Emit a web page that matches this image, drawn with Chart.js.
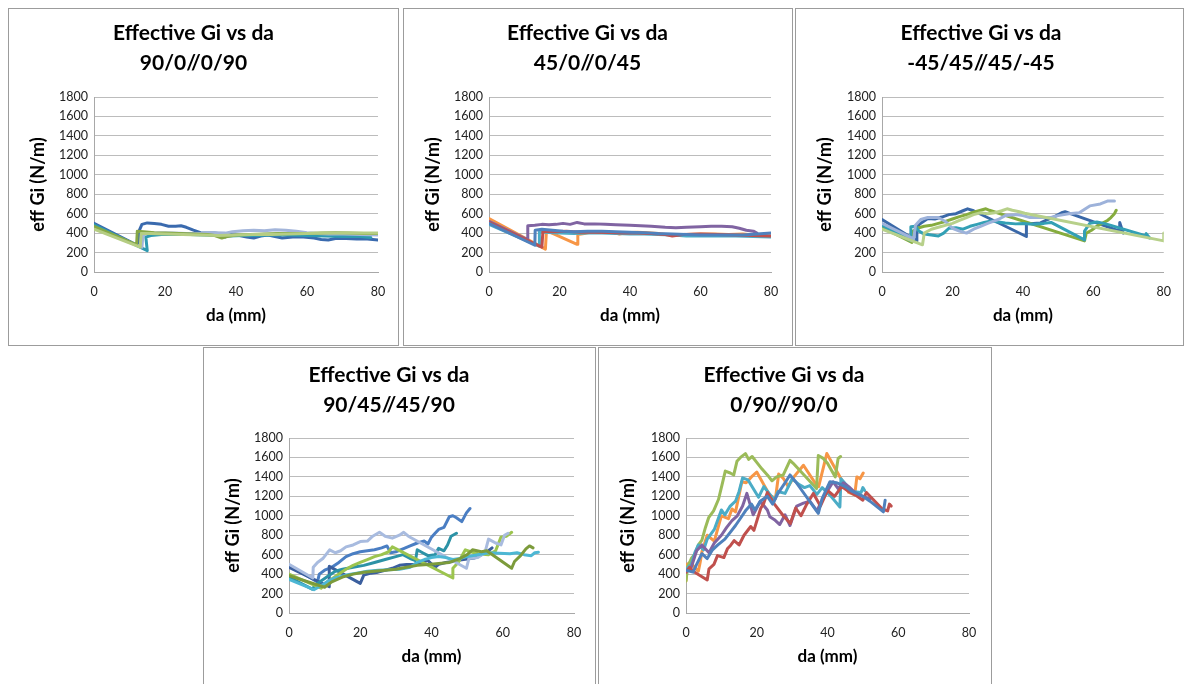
<!DOCTYPE html>
<html>
<head>
<meta charset="utf-8">
<script src="https://cdn.jsdelivr.net/npm/chart.js@4.4.0/dist/chart.umd.min.js"></script>
<style>
  body { margin: 0; background: #fff; width: 1184px; height: 684px; overflow: hidden; position: relative; }
  .panel { position: absolute; border: 1px solid #9c9c9c; box-sizing: border-box; background: #fff; overflow: hidden; }
  .panel canvas { display: block; }
</style>
</head>
<body>
<div class="panel" style="left:8px;top:8px;width:391px;height:338px"><canvas id="c1" width="389" height="336"></canvas></div>
<div class="panel" style="left:403px;top:8px;width:390px;height:338px"><canvas id="c2" width="388" height="336"></canvas></div>
<div class="panel" style="left:795px;top:8px;width:389px;height:338px"><canvas id="c3" width="387" height="336"></canvas></div>
<div class="panel" style="left:203px;top:347px;width:393px;height:340px"><canvas id="c4" width="391" height="338"></canvas></div>
<div class="panel" style="left:598px;top:347px;width:394px;height:340px"><canvas id="c5" width="392" height="338"></canvas></div>

<script>
// --- axes ---
const xTicks = [0, 20, 40, 60, 80];
const yTicks = [0, 200, 400, 600, 800, 1000, 1200, 1400, 1600, 1800];

// --- 90/0//0/90 : [da (mm), eff Gi (N/m)] ---
const p1Navy = [[0,500],[12.5,270],[12.8,430],[13.5,490],[15,505],[17,500],[19,490],[21,470],[23,470],[24.5,475],[26,460],[28,430],[30,405],[32,400],[34,400],[36,390],[37,360],[38.5,385],[41,375],[43,360],[45,350],[47,370],[49,380],[51,365],[53,350],[56,360],[59,360],[62,350],[64,335],[66,330],[68,345],[71,345],[74,340],[77,340],[80,330]];
const p1Lav = [[0,455],[13.5,255],[13.8,380],[15,395],[18,400],[22,400],[26,395],[30,395],[34,405],[37,400],[39,415],[42,425],[45,430],[48,425],[51,435],[54,430],[57,420],[60,405],[63,395],[66,390],[70,390],[75,385],[80,380]];
const p1Green = [[0,470],[12,280],[12.2,420],[14,415],[17,405],[20,400],[24,395],[28,390],[32,385],[34,375],[36,350],[37.5,365],[40,380],[44,385],[48,390],[52,395],[56,395],[60,395],[64,400],[68,405],[72,400],[76,395],[80,395]];
const p1Lime = [[0,440],[13,255],[13.3,395],[16,395],[20,390],[25,385],[30,380],[35,375],[40,380],[45,385],[50,385],[55,390],[60,395],[65,400],[70,400],[75,400],[80,400]];
const p1Teal = [[0,485],[15,220],[14.6,360],[16,375],[19,385],[23,385],[27,385],[31,380],[35,375],[38,370],[42,375],[46,375],[50,380],[55,380],[60,375],[65,370],[70,365],[75,365],[78,355]];

// --- 45/0//0/45 ---
const p2Purple = [[0,520],[11,330],[11,475],[13,480],[15,490],[17,485],[19,490],[21,500],[23,490],[25,510],[27,495],[30,495],[33,490],[36,485],[40,480],[43,475],[46,470],[50,460],[53,455],[56,460],[60,465],[63,470],[66,470],[69,465],[71,450],[73,430],[75,420],[76,400]];
const p2Blue = [[0,500],[13,275],[13.1,430],[15,440],[18,430],[21,420],[24,415],[28,420],[32,420],[36,415],[40,410],[44,405],[48,395],[52,390],[56,385],[60,380],[64,380],[68,380],[72,380],[76,390],[80,400]];
const p2Aqua = [[0,490],[14.2,265],[14.3,415],[17,405],[20,400],[24,395],[28,400],[32,400],[36,395],[40,390],[44,390],[48,385],[52,380],[56,370],[60,370],[65,370],[70,370],[75,365],[80,360]];
const p2Red = [[0,510],[15,255],[15.3,420],[18,415],[22,420],[26,410],[30,410],[34,405],[38,400],[42,400],[46,395],[50,385],[52,370],[55,385],[60,390],[65,385],[70,380],[75,375],[80,370]];
const p2Orange = [[0,550],[16,235],[16.3,425],[25,285],[25.2,385],[27,395],[29,410],[32,405],[35,410],[37,390],[39,405],[42,410],[45,405],[48,395],[50,385],[53,380],[56,385],[60,390],[64,390],[68,385],[72,390],[75,380],[78,375],[80,370]];

// --- -45/45//45/-45 ---
const p3Navy = [[0,540],[9.8,320],[9.9,470],[11,500],[13,550],[15,545],[17,565],[19,590],[21,600],[23,630],[24.3,650],[26,630],[41,365],[41,500],[43,500],[45,505],[47,540],[49,570],[51,610],[52,620],[53.5,600],[67.5,420],[67.5,510],[68.5,400]];
const p3Lav = [[0,500],[9,340],[9.5,480],[11,540],[13,560],[16,560],[18,520],[20,450],[22,420],[24,400],[26,440],[28,470],[30,500],[33,540],[35,580],[38,590],[40,580],[42,560],[45,560],[48,560],[50,580],[53,600],[56,610],[59,680],[62,700],[64,730],[66,730]];
const p3Green = [[0,460],[8.5,305],[8.8,420],[10,450],[12,470],[14,480],[16,500],[18,520],[20,545],[22,570],[24,590],[26,615],[28,635],[29.5,650],[30.5,635],[57.5,320],[58,400],[59.5,430],[61,470],[62.5,500],[64,530],[65,560],[66,600],[66.5,635]];
const p3Lime = [[0,440],[11.5,280],[12,400],[14,440],[16,460],[18,480],[20,500],[22,530],[24,560],[26,590],[28,610],[30,600],[32,610],[34,630],[35.5,650],[37,635],[39,620],[40.5,605],[80,320],[80,400]];
const p3Teal = [[0,480],[8,325],[8.2,465],[9.5,470],[10.5,420],[12,390],[14,380],[16,370],[17.5,400],[19,450],[21,455],[23,440],[25,470],[27,490],[29,510],[31,525],[33,515],[35,505],[38,495],[40,500],[43,490],[46,500],[48,510],[57.5,330],[57.5,420],[59,500],[61,515],[63,500],[65,480],[75,370],[75,395],[76,350]];

// --- 90/45//45/90 ---
const p4Navy = [[0,470],[11.3,270],[11.3,480],[20,305],[21,390],[23,410],[25,420],[27,440],[29,460],[31,490],[33,500],[35,500],[37,520],[39,540],[41,470],[42,500],[44,520],[46,530],[48,545],[50,555],[52,565],[54,600],[56,640],[57,670]];
const p4Blue = [[0,490],[8,320],[8.5,400],[10,440],[12,470],[14,520],[16,580],[18,610],[20,630],[22,640],[24,650],[26,670],[27.5,690],[28.5,620],[30,630],[32,660],[34,690],[36,720],[38,740],[39,710],[40,780],[41,820],[42,860],[43.5,880],[45,990],[46,1000],[47,980],[48.5,940],[49.8,1030],[50.8,1075]];
const p4Lav = [[0,500],[6.7,360],[6.8,470],[8,520],[9.5,560],[11.4,650],[13,620],[14.5,640],[16,680],[18,700],[20,735],[22,740],[23.5,790],[25.4,830],[27,790],[29,770],[31,800],[32.2,830],[33.5,790],[49.8,460],[50.5,560],[53,570],[55,620],[56,760],[58,720],[59.5,700],[60.5,800],[61.5,820]];
const p4Lime = [[0,400],[9,255],[10,300],[12,350],[14,400],[16,450],[18,490],[20,520],[22,550],[24,580],[26,600],[28,630],[29,680],[46,360],[46,460],[47.5,520],[49.5,650],[51,630],[53,610],[56,600],[58,640],[59.5,780],[61,790],[62.5,830]];
const p4Olive = [[0,385],[10,265],[12,320],[15,370],[18,400],[21,420],[24,430],[27,440],[30,450],[33,470],[36,490],[39,500],[42,510],[45,520],[48,560],[50,600],[51.5,650],[54,630],[55.5,640],[62.5,460],[63.3,530],[65,590],[66.5,660],[67.5,690],[68.5,670]];
const p4Teal = [[0,370],[6.5,245],[7.5,290],[9,330],[11,380],[13,430],[15,450],[18,470],[21,490],[24,520],[27,550],[30,580],[32,600],[34,560],[35.5,540],[36,650],[37.5,620],[39,590],[41,600],[42,665],[43.5,640],[44.5,700],[45.5,790],[47,820]];
const p4Cyan = [[0,345],[7,240],[9,280],[11,330],[13,360],[16,390],[19,410],[22,430],[25,440],[28,445],[31,450],[34,470],[36,520],[38,550],[40,570],[42,580],[44,570],[46,550],[48,560],[50,580],[53,600],[56,620],[59,615],[62,610],[64,620],[66,600],[68,590],[69,620],[70,625]];

// --- 0/90//90/0 ---
const p5Green = [[0,330],[0.5,480],[1.5,560],[2.6,610],[3.5,700],[4.5,750],[5.5,880],[6.4,980],[7.8,1050],[9.2,1170],[10.2,1320],[11.1,1460],[12.5,1440],[13.5,1420],[14.4,1560],[15.4,1600],[16.8,1640],[17.7,1580],[18.7,1610],[20,1550],[21.5,1480],[23,1420],[24.3,1360],[25.6,1400],[27.5,1420],[29.4,1570],[30.3,1540],[36.9,1280],[37.4,1620],[38.8,1590],[40,1540],[42.2,1400],[43,1590],[43.7,1610]];
const p5Orange = [[0,330],[0.3,500],[1.2,520],[3.5,430],[4,520],[4.5,630],[6,800],[8,740],[10,1000],[12,970],[13,1070],[14,1040],[15.8,1350],[17,1340],[18.5,1400],[20,1450],[23.7,1210],[25.3,1180],[26.2,1430],[27.5,1385],[28.9,1300],[30.5,1400],[33.2,1520],[36.9,1315],[37.5,1300],[39.8,1640],[46,1240],[47.7,1215],[48.3,1400],[49.2,1380],[50.1,1440]];
const p5Aqua = [[0,450],[1.5,500],[2.5,620],[3.5,700],[5,650],[6,760],[8,860],[10,1060],[11,1010],[12.5,1100],[14,1150],[15,1250],[16,1390],[17.5,1370],[20.5,1190],[22,1300],[25,1160],[26,1250],[28,1230],[30,1380],[32,1320],[33.5,1290],[35,1310],[37,1220],[38.5,1290],[41,1200],[43.5,1090],[43.8,1380],[47,1250],[49.5,1240],[50,1290],[50.5,1260]];
const p5Blue = [[0,440],[2,420],[3,500],[4.5,610],[6,560],[7.5,650],[9,700],[11,760],[12.5,830],[14,900],[15.5,980],[17,1060],[18.5,1120],[19.5,1060],[21,1150],[23,1200],[24.5,1120],[26,1230],[28,1340],[29.4,1420],[31,1350],[37.4,1025],[38.5,1180],[40.7,1350],[42.5,1340],[45,1300],[47,1250],[50,1200],[52,1150],[55.8,1040],[56.3,1160]];
const p5Purple = [[0,420],[1.5,470],[3,640],[4.5,700],[6.5,620],[8,720],[10,800],[11.5,880],[13,950],[14.5,1000],[16,1100],[17.2,1230],[19,1010],[21,1150],[23,1060],[23.7,990],[25,960],[26.5,910],[28,1010],[29.4,900],[31.3,1100],[33.2,1130],[35,1150],[37,1050],[39,1200],[41.6,1350],[43,1280],[44.5,1340],[46,1300],[48,1230],[50,1200],[52,1170]];
const p5Red = [[0,420],[1,470],[2,430],[6,340],[6.5,455],[7.9,500],[8.9,590],[10.7,570],[11.7,660],[12.6,695],[13.6,745],[15,700],[16.4,800],[18.3,890],[19.2,850],[21.1,1075],[22,1130],[23,1240],[25,1120],[27.5,1000],[29.5,920],[31,1080],[32.5,1000],[34,1110],[36,1230],[38,1100],[40,1260],[42,1200],[44,1300],[46,1250],[48,1210],[50,1160],[51,1240],[55.5,1070],[57,1050],[57.5,1120],[58,1100]];

const FONT = 'Lato, "Open Sans", sans-serif';

function lineSet(pts, color) {
  return {
    data: pts.map(p => ({ x: p[0], y: p[1] })),
    borderColor: color,
    borderWidth: 3,
    borderJoinStyle: 'round',
    borderCapStyle: 'round',
    pointRadius: 0,
    tension: 0,
    fill: false
  };
}

function makeChart(id, subtitle, sets, box) {
  return new Chart(document.getElementById(id), {
    type: 'line',
    data: { datasets: sets },
    options: {
      responsive: false,
      animation: false,
      events: [],
      layout: { padding: { left: 0, top: 0, right: box.right, bottom: 0 } },
      plugins: {
        legend: { display: false },
        tooltip: { enabled: false },
        title: {
          display: true,
          text: ['Effective Gi vs da', subtitle],
          color: '#000',
          font: { family: FONT, size: 21, weight: 'bold', lineHeight: 30 / 21 },
          padding: { top: box.titleTop, bottom: box.top - box.titleTop - 60 }
        }
      },
      scales: {
        x: {
          type: 'linear',
          min: xTicks[0],
          max: xTicks[xTicks.length - 1],
          afterBuildTicks: s => { s.ticks = xTicks.map(v => ({ value: v })); },
          ticks: { padding: 12, color: '#222', font: { family: FONT, size: 12.5 }, callback: v => String(v) },
          grid: { display: false, drawTicks: false },
          border: { color: '#a8a8a8', width: 1 },
          title: { display: true, text: 'da (mm)', color: '#000', font: { family: FONT, size: 17, weight: 'bold' }, padding: { top: 0, bottom: 19 } },
          afterFit: s => { s.height = 73; }
        },
        y: {
          min: yTicks[0],
          max: yTicks[yTicks.length - 1],
          afterBuildTicks: s => { s.ticks = yTicks.map(v => ({ value: v })); },
          ticks: { padding: 6, color: '#222', font: { family: FONT, size: 12.5 }, callback: v => String(v) },
          grid: { color: '#bcbcbc', lineWidth: 1, drawTicks: false },
          border: { color: '#a8a8a8', width: 1 },
          title: { display: true, text: 'eff Gi (N/m)', color: '#000', font: { family: FONT, size: 18, weight: 'bold' }, padding: { top: 18, bottom: 0 } },
          afterFit: s => { s.width = box.left; }
        }
      }
    }
  });
}

makeChart('c1', '90/0//0/90', [
  lineSet(p1Lime, '#b5cd83'),
  lineSet(p1Green, '#86a845'),
  lineSet(p1Lav, '#a3b5da'),
  lineSet(p1Teal, '#2e9ab0'),
  lineSet(p1Navy, '#3a6aae')
], { left: 85, right: 20, top: 88, titleTop: 9 });

makeChart('c2', '45/0//0/45', [
  lineSet(p2Blue, '#4f81bd'),
  lineSet(p2Red, '#c0504d'),
  lineSet(p2Aqua, '#4bacc6'),
  lineSet(p2Purple, '#8064a2'),
  lineSet(p2Orange, '#f79646')
], { left: 85, right: 21, top: 88, titleTop: 9 });

makeChart('c3', '-45/45//45/-45', [
  lineSet(p3Lime, '#b7d08a'),
  lineSet(p3Lav, '#9db2da'),
  lineSet(p3Teal, '#33a0b5'),
  lineSet(p3Green, '#86ac3e'),
  lineSet(p3Navy, '#3a68a8')
], { left: 86, right: 17, top: 88, titleTop: 9 });

makeChart('c4', '90/45//45/90', [
  lineSet(p4Olive, '#7c9b3b'),
  lineSet(p4Cyan, '#4db7d4'),
  lineSet(p4Lav, '#a8bbdf'),
  lineSet(p4Lime, '#9cc44e'),
  lineSet(p4Teal, '#2c92a6'),
  lineSet(p4Navy, '#3b5f9e'),
  lineSet(p4Blue, '#4a7ec3')
], { left: 85, right: 21, top: 90, titleTop: 12 });

makeChart('c5', '0/90//90/0', [
  lineSet(p5Blue, '#4f81bd'),
  lineSet(p5Red, '#c0504d'),
  lineSet(p5Purple, '#8064a2'),
  lineSet(p5Aqua, '#4bacc6'),
  lineSet(p5Green, '#9bbb59'),
  lineSet(p5Orange, '#f79646')
], { left: 87, right: 22, top: 90, titleTop: 12 });
</script>
</body>
</html>
